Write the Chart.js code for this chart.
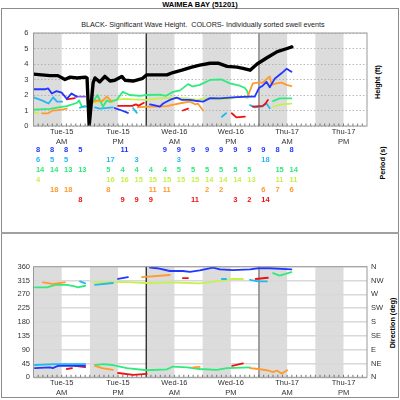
<!DOCTYPE html>
<html>
<head>
<meta charset="utf-8">
<title>Waimea Bay (51201)</title>
<script src="https://cdn.jsdelivr.net/npm/chart.js@4.4.1/dist/chart.umd.min.js"></script>
<style>
  html, body { margin: 0; padding: 0; background: #fff; }
  #page { position: relative; width: 400px; height: 400px; overflow: hidden; font-family: "Liberation Sans", Arial, sans-serif; color: #000; }
  #page canvas { position: absolute; left: 0; top: 0; }
  .frame { position: absolute; left: 1px; top: 8px; width: 398px; height: 390px; border: 1.5px solid #8c8c8c; box-sizing: border-box; }
  .divider { position: absolute; left: 1px; top: 232px; width: 398px; height: 1.5px; background: #a0a0a0; }
  .title { position: absolute; left: 0; top: 0; width: 400px; text-align: center; font-weight: bold; font-size: 7.5px; line-height: 9px; }
  .subtitle { position: absolute; left: 0; top: 19.5px; width: 406px; text-align: center; font-size: 7.2px; line-height: 9px; color: #222; white-space: nowrap; }
  .side { position: absolute; font-weight: bold; font-size: 7.2px; line-height: 9px; white-space: nowrap; transform: translate(-50%, -50%) rotate(-90deg); }
</style>
</head>
<body>
<div id="page">
  <div class="frame"></div>
  <div class="divider"></div>
  <div class="title">WAIMEA BAY (51201)</div>
  <div class="subtitle">BLACK- Significant Wave Height.&nbsp; COLORS- Individually sorted swell events</div>
  <div class="side" style="left:377px; top:82px;">Height (ft)</div>
  <div class="side" style="left:382px; top:163px;">Period (s)</div>
  <div class="side" style="left:391.5px; top:323px;">Direction (deg)</div>
  <canvas id="heightChart" width="400" height="400"></canvas>
  <canvas id="periodChart" width="400" height="400"></canvas>
  <canvas id="directionChart" width="400" height="400"></canvas>
</div>

<script>
  const FONT = '"Liberation Sans", Arial, sans-serif';
  const HOURS_MAX = 71;

  // time axis (hours from Tue 00:00)
  const labelHours = [6, 18, 30, 42, 54, 66];
  const labelDays = ['Tue-15', 'Tue-15', 'Wed-16', 'Wed-16', 'Thu-17', 'Thu-17'];
  const labelHalves = ['AM', 'PM', 'AM', 'PM', 'AM', 'PM'];
  const shadeStarts = [0, 12, 24, 36, 48, 60];
  const dayMarks = [24, 48];
  const compass = ['N', 'NE', 'E', 'SE', 'S', 'SW', 'W', 'NW', 'N'];

  // heights [hour, ft], null = break in the line
  const sigHeight = [[0,3.35],[3.5,3.25],[5.2,3.25],[6.7,3.0],[7.8,3.15],[9.3,3.1],[11,3.15],[11.4,3.1],[11.85,0],[12.7,2.8],[13.1,3.1],[14.1,2.85],[15.2,3.2],[16.3,2.9],[17.3,2.95],[18.8,3.2],[19.5,2.95],[21.2,2.9],[23.1,3.05],[24.1,3.3],[26.3,3.3],[28.4,3.3],[29.7,3.45],[31.6,3.6],[33.7,3.8],[35.4,3.93],[37.6,4.05],[39.3,4.05],[41.2,3.85],[43.3,3.8],[44.6,3.72],[46.1,3.6],[47.6,4.0],[49.7,4.4],[51.9,4.8],[54,5.0],[55,5.1]];
  const htBlue = [[0,2.37],[2.4,2.37],[3.1,2.43],[3.9,2.1],[4.9,2.25],[6,2.15],[7.1,1.75],[8.1,2.1],[9.2,1.9], null,
    [17.3,1.15],[18.8,1.0],[20.1,0.85], null,
    [24.8,1.4],[25.6,1.35],[26.9,1.25],[27.6,1.45],[29,1.68],[30.5,1.83],[31.6,1.68],[33.3,1.68],[34.4,1.63],[36.1,1.57],[37.6,1.8],[39.7,1.78],[42.4,1.85],[45.6,1.9],[47.1,1.9],[48,2.45],[48.8,2.6],[49.6,2.85],[50.3,2.5],[51.4,3.07],[52.8,3.4],[53.9,3.7],[54.9,3.5]];
  const htViolet = [[8.9,1.9],[11,1.9]];
  const htSky = [[0,1.85],[1.8,1.65],[3.2,1.45],[4.2,1.85],[5,1.57],[6.1,1.57], null,
    [9.9,1.18],[11,1.28], null, [13.1,1.2],[14.1,1.12],[16.9,1.2], null, [21.2,1.15],[22,0.85], null,
    [40.1,0.6],[41,0.82], null, [46.1,1.35],[47.1,1.2],[48.6,1.25],[49.6,1.45],[50.3,1.15]];
  const htGreen = [[0,1.05],[3.5,1.1],[6.3,1.25],[7.1,1.28],[9.3,1.5],[9.7,1.65],[10.3,1.25],[11.2,1.25], null,
    [12.8,1.6],[13.6,2.0],[14.8,1.25],[15.6,1.65],[16.3,1.55],[17.7,1.68],[19,2.2],[20.5,2.0],[22.7,1.95],[24.1,2.0],[26.9,2.03],[28.2,1.95],[29.7,2.2],[31.2,2.3],[32.9,2.7],[33.9,2.55],[35.4,2.65],[37.6,2.97],[40,3.0],[41.8,2.75],[43.9,2.6],[45,2.45],[45.4,2.3],[45.9,1.9], null,
    [51,1.6],[52.4,1.78],[54.9,1.78]];
  const htLime = [[0,0.92],[1,0.8], null,
    [12.7,1.5],[14.1,1.55],[17.3,1.68],[19.5,1.75],[21.2,1.72],[24.1,1.68],[26.9,1.78],[29.7,1.83],[32.7,1.78],[34.8,1.68],[36.9,1.8],[39,1.7],[41.8,1.75],[43.3,1.9],[44.6,1.9],[45.6,1.8], null,
    [51,1.25],[52.9,1.4],[54.9,1.45]];
  const htOrange = [[1.8,0.82],[3.1,0.82],[4.1,1.0],[5.2,1.03],[6.3,1.07],[7.1,1.12], null,
    [12.7,1.55],[13.7,1.65],[14.6,1.6],[15.6,1.9],[16.7,1.57], null,
    [22.2,1.2],[24.1,1.25],[26.3,1.25],[28.4,1.28],[30.1,1.4],[31.8,1.5],[33.3,1.57],[34.4,1.4],[35,1.45],[36.1,1.0], null,
    [45.6,1.9],[46.1,2.3],[46.7,2.75],[47.8,2.8],[48.8,2.8],[49.7,3.05],[50.3,3.2],[50.7,2.65],[51.7,2.75],[52.8,2.8],[53.9,2.65],[54.9,2.58]];
  const htRed = [[7.1,1.72],[8.8,1.8], null, [18,1.3],[21,1.3],[21.8,1.4],[22.3,1.3],[23.5,1.5], null,
    [31.8,1.0],[32.9,1.12], null, [42.2,0.82],[43.2,0.56],[45,0.6], null, [46.7,1.25],[48.8,1.3],[49.4,1.45],[49.9,1.68]];

  // periods (s), one column every 3 hours
  const periodHours = [1, 4, 7, 10, 13, 16, 19, 22, 25, 28, 31, 34, 37, 40, 43, 46, 49, 52, 55];
  const perBlue   = [8, 8, 8, 5, null, null, 11, null, null, 9, 9, 9, 9, 9, 9, 9, 9, 8, 8];
  const perSky    = [6, 5, 5, null, null, 17, null, 3, null, null, 3, null, null, null, null, null, 18, null, null];
  const perGreen  = [14, 14, 13, 13, null, 5, 4, 4, 4, 4, 5, 5, 5, 5, 5, 5, null, 15, 14];
  const perLime   = [4, null, null, null, null, 16, 16, 15, 15, 15, 15, 15, 14, 14, 14, 13, null, 11, 11];
  const perOrange = [null, 18, 18, null, null, 8, null, null, 11, 11, null, null, 2, 2, null, null, 6, 7, 6];
  const perRed    = [null, null, null, 8, null, null, 9, 9, 9, null, null, 11, null, null, 3, 2, 14, null, null];

  // directions [hour, deg]
  const dirBlue = [[0.3,30],[3.5,32],[4.1,30],[5.2,37],[11,37], null, [18,320],[20.1,326], null,
    [24.8,357],[26.3,355],[29,346],[31.8,346],[33.3,343],[35.4,348],[38.2,357],[39.7,351],[42.4,349],[46.1,351],[47.8,355],[50.3,355],[54.9,351]];
  const dirSky = [[0.3,40],[4.6,43],[11,43], null, [9.9,312],[11,306], null, [13.1,301],[16.9,307], null,
    [40.1,320],[41,320], null, [46.1,317],[47.8,312],[49.7,312]];
  const dirGreen = [[0.3,293],[2.9,293],[4.6,301],[7.1,301],[8.8,296],[9.5,293],[11,298], null,
    [13.1,40],[14.8,43],[16.9,40],[19.9,30],[24.1,23],[28.4,26],[29.7,35],[32.7,32],[35.4,27],[39,24],[41.2,30],[46.1,32], null,
    [51,339],[52.4,331],[54.9,342]];
  const dirLime = [[12.7,309],[16.3,310],[19.9,310],[24.1,307],[29,309],[35.4,306],[39.7,314],[42.4,320],[44.6,320]];
  const dirOrange = [[2,309],[4.1,304],[6.7,309], null, [13.1,37],[14.6,30],[16.9,24], null, [23.1,326],[29,333], null,
    [34,32],[35.4,34], null, [46.1,30],[47.8,27],[49.7,23],[51,17],[51.8,22],[52.9,12],[54,23]];
  const dirRed = [[7.1,27],[8.2,30], null, [8.8,37],[11,33], null, [18,14],[21.2,8],[24.1,11], null,
    [31.8,323],[32.9,323], null, [42.3,37],[44.6,45], null, [47.3,320],[49.9,324]];

  const C_BLUE = '#2236ff', C_SKY = '#22b8f0', C_GREEN = '#30ea7c', C_LIME = '#c8f050',
        C_ORANGE = '#ff9a2e', C_RED = '#f01010', C_VIOLET = '#8a5cf0';

  function toPoints(pairs) {
    return pairs.map((p, i) => p ? { x: p[0], y: p[1] } : { x: pairs[i - 1][0], y: null });
  }

  function lineSet(pairs, color, width) {
    return {
      data: toPoints(pairs), borderColor: color, borderWidth: width || 1.8,
      pointRadius: 0, tension: 0, spanGaps: false,
      borderJoinStyle: 'round', borderCapStyle: 'round'
    };
  }

  function periodSet(values, row, color) {
    return {
      data: values.map((p, i) => ({ x: periodHours[i], y: row, p: p })).filter(d => d.p !== null),
      borderColor: color, pointRadius: 0
    };
  }

  function baseOptions(padding) {
    return {
      responsive: false,
      animation: false,
      events: [],
      layout: { padding: padding },
      plugins: { legend: { display: false }, tooltip: { enabled: false } }
    };
  }

  function hourScale(labelPad) {
    return {
      type: 'linear', min: 0, max: HOURS_MAX,
      afterBuildTicks: s => { s.ticks = labelHours.map(v => ({ value: v })); },
      afterFit: s => { s.height = 22; },
      grid: { display: false, drawTicks: false },
      border: { display: false },
      ticks: {
        autoSkip: false, maxRotation: 0, padding: labelPad, color: '#333',
        font: { family: FONT, size: 7.5, lineHeight: 1.3333 },
        callback: v => {
          const i = labelHours.indexOf(v);
          return i < 0 ? '' : [labelDays[i], labelHalves[i]];
        }
      }
    };
  }

  // shaded 6-hour blocks, day marks, plot frame and hourly ticks
  const swellFrame = {
    id: 'swellFrame',
    beforeDraw(chart) {
      const { ctx, chartArea: a, scales: { x } } = chart;
      ctx.save();
      ctx.fillStyle = '#dcdcdc';
      shadeStarts.forEach(h => {
        const x0 = x.getPixelForValue(h);
        const x1 = x.getPixelForValue(Math.min(h + 6, HOURS_MAX));
        ctx.fillRect(x0, a.top, x1 - x0, a.bottom - a.top);
      });
      ctx.restore();
    },
    beforeDatasetsDraw(chart) {
      const { ctx, chartArea: a, scales: { x } } = chart;
      ctx.save();
      dayMarks.forEach((h, i) => {
        const px = x.getPixelForValue(h);
        ctx.strokeStyle = i === 0 ? '#111' : '#8c8c8c';
        ctx.lineWidth = i === 0 ? 1.2 : 1.6;
        ctx.beginPath();
        ctx.moveTo(px, a.top);
        ctx.lineTo(px, a.bottom);
        ctx.stroke();
      });
      ctx.restore();
    },
    afterDraw(chart) {
      const { ctx, chartArea: a, scales: { x } } = chart;
      ctx.save();
      ctx.strokeStyle = '#555';
      ctx.lineWidth = 0.8;
      ctx.beginPath();
      for (let h = 1; h < HOURS_MAX; h++) {
        const px = x.getPixelForValue(h);
        ctx.moveTo(px, a.bottom);
        ctx.lineTo(px, a.bottom - 2.5);
      }
      ctx.stroke();
      ctx.strokeStyle = '#999';
      ctx.lineWidth = 1;
      ctx.strokeRect(a.left, a.top, a.right - a.left, a.bottom - a.top);
      ctx.restore();
    }
  };

  const periodText = {
    id: 'periodText',
    afterDatasetsDraw(chart) {
      const ctx = chart.ctx;
      ctx.save();
      ctx.font = 'bold 7.5px ' + FONT;
      ctx.textAlign = 'left';
      ctx.textBaseline = 'middle';
      chart.data.datasets.forEach((ds, i) => {
        ctx.fillStyle = ds.borderColor;
        chart.getDatasetMeta(i).data.forEach((pt, j) => {
          ctx.fillText(String(ds.data[j].p), pt.x - 2.3, pt.y);
        });
      });
      ctx.restore();
    }
  };

  new Chart(document.getElementById('heightChart'), {
    type: 'line',
    data: {
      datasets: [
        lineSet(sigHeight, '#000', 3.4),
        lineSet(htBlue, C_BLUE),
        lineSet(htViolet, C_VIOLET),
        lineSet(htRed, C_RED),
        lineSet(htSky, C_SKY),
        lineSet(htOrange, C_ORANGE),
        lineSet(htGreen, C_GREEN),
        lineSet(htLime, C_LIME)
      ]
    },
    options: Object.assign(baseOptions({ top: 33, left: 0, right: 33, bottom: 252 }), {
      scales: {
        x: hourScale(1),
        y: {
          min: 0, max: 6,
          afterFit: s => { s.width = 33.5; },
          ticks: { stepSize: 1, padding: 5, color: '#333', font: { family: FONT, size: 7.5 } },
          grid: { color: '#a8a8a8', lineWidth: 0.8, drawTicks: false },
          border: { display: false, dash: [1.5, 2] }
        }
      }
    }),
    plugins: [swellFrame]
  });

  new Chart(document.getElementById('periodChart'), {
    type: 'scatter',
    data: {
      datasets: [
        periodSet(perBlue, 1, C_BLUE),
        periodSet(perSky, 2, C_SKY),
        periodSet(perGreen, 3, C_GREEN),
        periodSet(perLime, 4, C_LIME),
        periodSet(perOrange, 5, C_ORANGE),
        periodSet(perRed, 6, C_RED)
      ]
    },
    options: Object.assign(baseOptions({ top: 140, left: 33.5, right: 33, bottom: 190 }), {
      scales: {
        x: { type: 'linear', min: 0, max: HOURS_MAX, display: false },
        y: { type: 'linear', min: 0, max: 7, reverse: true, display: false }
      }
    }),
    plugins: [periodText]
  });

  new Chart(document.getElementById('directionChart'), {
    type: 'line',
    data: {
      datasets: [
        lineSet(dirBlue, C_BLUE),
        lineSet(dirRed, C_RED),
        lineSet(dirSky, C_SKY),
        lineSet(dirOrange, C_ORANGE),
        lineSet(dirGreen, C_GREEN),
        lineSet(dirLime, C_LIME)
      ]
    },
    options: Object.assign(baseOptions({ top: 266.7, left: 0, right: 0, bottom: 0.7 }), {
      scales: {
        x: hourScale(0.7),
        y: {
          min: 0, max: 360,
          afterFit: s => { s.width = 33.5; },
          ticks: { stepSize: 45, padding: 3.5, color: '#333', font: { family: FONT, size: 7.5 } },
          grid: { color: '#d8d8d8', lineWidth: 1.5, drawTicks: false },
          border: { display: false }
        },
        y2: {
          position: 'right', min: 0, max: 360,
          afterFit: s => { s.width = 33; },
          ticks: { stepSize: 45, padding: 4, color: '#333', font: { family: FONT, size: 7.5 },
                   callback: v => compass[Math.round(v / 45)] },
          grid: { display: false, drawTicks: false },
          border: { display: false }
        }
      }
    }),
    plugins: [swellFrame]
  });
</script>
</body>
</html>
